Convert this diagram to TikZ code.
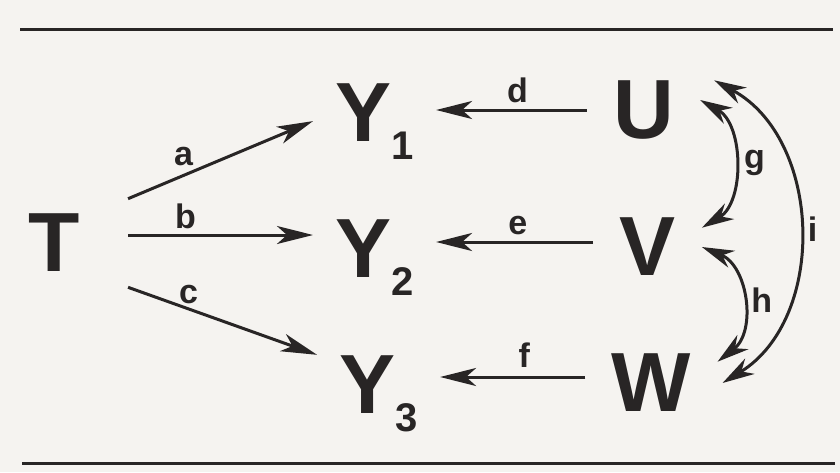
\documentclass[tikz,border=0pt]{standalone}
\usepackage{fontspec}
\setmainfont{Liberation Sans}
\usetikzlibrary{arrows.meta}

\definecolor{paper}{RGB}{245,243,240}
\definecolor{ink}{RGB}{40,37,37}

\newcommand{\subidx}[1]{\lower9pt\hbox{\fontsize{20}{20}\selectfont\bfseries #1}}

\tikzset{
  var/.style={font=\fontsize{42}{42}\selectfont\bfseries, text=ink, inner sep=0pt},
  yvar/.style={var, inner xsep=11pt, anchor=base west},
  side/.style={var, inner xsep=13pt},
  lbl/.style={font=\fontsize{17}{17}\selectfont\bfseries, text=ink, inner sep=0pt},
  arr/.style={draw=ink, line width=1.5pt, -{Stealth[length=18pt,width=9pt,inset=5pt]}},
  dbl/.style={draw=ink, line width=1.5pt, {Stealth[length=16pt,width=9pt,inset=5pt]}-{Stealth[length=16pt,width=9pt,inset=5pt]}},
  rule/.style={draw=ink, line width=1.5pt}
}

\begin{document}
\begin{tikzpicture}[x=0.5pt,y=-0.5pt]
  \fill[paper] (0,0) rectangle (840,472);
  \useasboundingbox (0,0) rectangle (840,472);

  % Linies de dalt i de baix
  \draw[rule] (20,29) -- (833,29);
  \draw[rule] (22,463) -- (835,463);

  % Variables
  \node[var, inner xsep=24pt, inner ysep=7.5pt] (T) at (54,243) {T};
  \node[yvar] (Y1) at (313,141) {Y\subidx{1}};
  \node[yvar] (Y2) at (313,277) {Y\subidx{2}};
  \node[yvar] (Y3) at (317,413) {Y\subidx{3}};
  \node[side] (U) at (643.5,110) {U};
  \node[side] (V) at (647.5,247) {V};
  \node[side] (W) at (651.5,383) {W};

  % T -> Y
  \draw[arr] (T.north east) -- (Y1.west) node[pos=0.3, lbl, above=4pt] (la) {a};
  \draw[arr] ([yshift=4pt]T.east) -- ([yshift=4pt]T.east -| Y2.west) node[pos=0.31, lbl, above=2.5pt] (lb) {b};
  \draw[arr] (T.south east) -- (Y3.north west) node[pos=0.32, lbl, above=2pt] (lc) {c};

  % U, V, W -> Y
  \draw[arr] (U.west) -- (U.west -| Y1.east) node[pos=0.46, lbl, above=3pt] (ld) {d};
  \draw[arr] ([yshift=2.5pt]V.west) -- ([yshift=2.5pt]V.west -| Y2.east) node[pos=0.48, lbl, above=3pt] (le) {e};
  \draw[arr] ([yshift=3pt]W.west) -- ([yshift=3pt]W.west -| Y3.east) node[pos=0.42, lbl, above=4pt] (lf) {f};

  % Correlacions
  \draw[dbl] ([yshift=5pt]U.east) to[bend left=60] node[midway, lbl, right=4.5pt] (lg) {g} ([yshift=-5pt]V.north east);
  \draw[dbl] (V.east) to[bend left=60, looseness=1.1] node[midway, lbl, right=4pt] (lh) {h} ([yshift=-4pt]W.north east);
  \draw[dbl] ([xshift=7pt]U.north east) to[bend left=60, looseness=1.04] node[midway, lbl, right=4pt] (li) {i} ([xshift=2.5pt]W.east);
\end{tikzpicture}
\end{document}
